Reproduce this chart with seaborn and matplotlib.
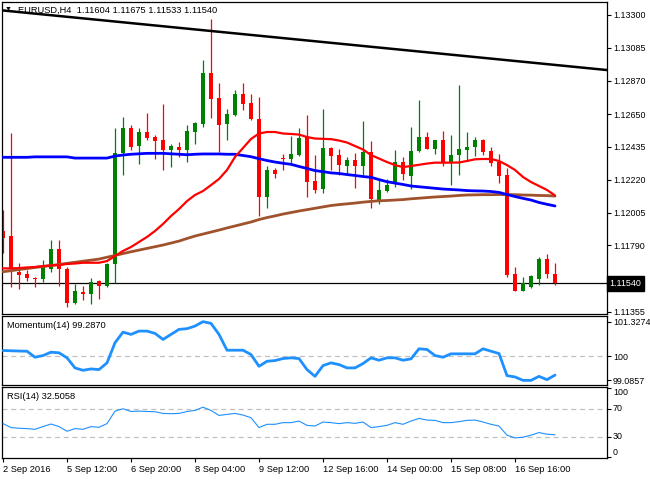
import seaborn as sns
import matplotlib
matplotlib.use("Agg")
import matplotlib.pyplot as plt
import matplotlib.transforms as mtransforms
import numpy as np
import pandas as pd

sns.set_style("white")
plt.rcParams['font.family'] = ['Liberation Sans', 'DejaVu Sans']

symbol = "EURUSD,H4"

# H4 candles, oldest first
opens = [
    1.11884, 1.11851, 1.11617, 1.11602, 1.11578, 1.11567, 1.11637, 1.11768, 1.11637, 1.11414,
    1.11486, 1.11473, 1.11556, 1.11525, 1.11668, 1.12395, 1.12557, 1.12441, 1.12531, 1.12502,
    1.12480, 1.12415, 1.12436, 1.12415, 1.12535, 1.12585, 1.12921, 1.12756, 1.12585, 1.12644,
    1.12782, 1.12725, 1.12618, 1.12109, 1.12284, 1.12362, 1.12358, 1.12382, 1.12498, 1.12212,
    1.12157, 1.12428, 1.12382, 1.12310, 1.12349, 1.12310, 1.12400, 1.12087, 1.12148, 1.12190,
    1.12334, 1.12246, 1.12410, 1.12498, 1.12423, 1.12480, 1.12334, 1.12382, 1.12415, 1.12434,
    1.12480, 1.12408, 1.12338, 1.12251, 1.11602, 1.11492, 1.11519, 1.11569, 1.11698, 1.11604]
highs = [
    1.12021, 1.12526, 1.11674, 1.11628, 1.11580, 1.11694, 1.11825, 1.11825, 1.11650, 1.11536,
    1.11523, 1.11576, 1.11563, 1.11676, 1.12559, 1.12631, 1.12579, 1.12561, 1.12659, 1.12513,
    1.12716, 1.12454, 1.12469, 1.12579, 1.12600, 1.13005, 1.13273, 1.12856, 1.12681, 1.12808,
    1.12856, 1.12782, 1.12764, 1.12310, 1.12295, 1.12387, 1.12507, 1.12557, 1.12644, 1.12382,
    1.12684, 1.12436, 1.12421, 1.12367, 1.12393, 1.12605, 1.12474, 1.12225, 1.12223, 1.12415,
    1.12367, 1.12567, 1.12742, 1.12533, 1.12482, 1.12539, 1.12513, 1.12841, 1.12533, 1.12500,
    1.12487, 1.12432, 1.12387, 1.12295, 1.11646, 1.11580, 1.11595, 1.11715, 1.11733, 1.11675]
lows = [
    1.11740, 1.11517, 1.11504, 1.11556, 1.11519, 1.11550, 1.11617, 1.11525, 1.11388, 1.11405,
    1.11432, 1.11405, 1.11440, 1.11519, 1.11543, 1.12251, 1.12415, 1.12323, 1.12480, 1.12354,
    1.12284, 1.12305, 1.12367, 1.12338, 1.12452, 1.12564, 1.12622, 1.12404, 1.12480, 1.12638,
    1.12677, 1.12611, 1.11982, 1.12033, 1.12229, 1.12284, 1.12328, 1.12375, 1.12105, 1.12131,
    1.12135, 1.12284, 1.12251, 1.12251, 1.12164, 1.12251, 1.12037, 1.12059, 1.12137, 1.12174,
    1.12218, 1.12157, 1.12404, 1.12420, 1.12389, 1.12310, 1.12185, 1.12251, 1.12345, 1.12377,
    1.12382, 1.12310, 1.12200, 1.11582, 1.11490, 1.11490, 1.11512, 1.11530, 1.11574, 1.11533]
closes = [
    1.11838, 1.11635, 1.11597, 1.11578, 1.11567, 1.11654, 1.11768, 1.11637, 1.11414, 1.11491,
    1.11473, 1.11550, 1.11525, 1.11668, 1.12395, 1.12559, 1.12436, 1.12535, 1.12495, 1.12476,
    1.12415, 1.12443, 1.12415, 1.12539, 1.12594, 1.12921, 1.12749, 1.12579, 1.12651, 1.12782,
    1.12716, 1.12616, 1.12109, 1.12284, 1.12257, 1.12358, 1.12389, 1.12491, 1.12207, 1.12153,
    1.12428, 1.12375, 1.12316, 1.12349, 1.12310, 1.12404, 1.12092, 1.12153, 1.12185, 1.12334,
    1.12255, 1.12410, 1.12498, 1.12423, 1.12480, 1.12334, 1.12382, 1.12421, 1.12432, 1.12480,
    1.12404, 1.12328, 1.12244, 1.11595, 1.11492, 1.11541, 1.11589, 1.11698, 1.11602, 1.11540]

# moving averages
ma_blue = [
    1.12367, 1.12367, 1.12367, 1.12367, 1.12370, 1.12370, 1.12370, 1.12370, 1.12370, 1.12362,
    1.12362, 1.12362, 1.12362, 1.12362, 1.12375, 1.12382, 1.12387, 1.12390, 1.12393, 1.12393,
    1.12393, 1.12390, 1.12387, 1.12384, 1.12387, 1.12389, 1.12389, 1.12389, 1.12387, 1.12387,
    1.12379, 1.12371, 1.12358, 1.12346, 1.12336, 1.12328, 1.12321, 1.12307, 1.12294, 1.12280,
    1.12273, 1.12265, 1.12261, 1.12254, 1.12248, 1.12241, 1.12236, 1.12221, 1.12207, 1.12198,
    1.12189, 1.12179, 1.12174, 1.12169, 1.12164, 1.12159, 1.12156, 1.12153, 1.12149, 1.12147,
    1.12146, 1.12143, 1.12137, 1.12123, 1.12110, 1.12098, 1.12087, 1.12071, 1.12059, 1.12048]
ma_red = [
    1.11639, 1.11639, 1.11641, 1.11645, 1.11648, 1.11654, 1.11658, 1.11661, 1.11668, 1.11671,
    1.11676, 1.11676, 1.11676, 1.11687, 1.11720, 1.11753, 1.11779, 1.11812, 1.11845, 1.11884,
    1.11930, 1.11982, 1.12028, 1.12080, 1.12120, 1.12146, 1.12185, 1.12225, 1.12284, 1.12369,
    1.12428, 1.12487, 1.12523, 1.12533, 1.12533, 1.12523, 1.12520, 1.12516, 1.12500, 1.12490,
    1.12488, 1.12486, 1.12477, 1.12464, 1.12441, 1.12418, 1.12382, 1.12359, 1.12336, 1.12316,
    1.12303, 1.12310, 1.12318, 1.12326, 1.12332, 1.12332, 1.12332, 1.12333, 1.12343, 1.12354,
    1.12356, 1.12356, 1.12343, 1.12316, 1.12284, 1.12238, 1.12205, 1.12179, 1.12153, 1.12117]
ma_brown = [
    1.11617, 1.11624, 1.11631, 1.11638, 1.11645, 1.11651, 1.11658, 1.11665, 1.11672, 1.11679,
    1.11686, 1.11693, 1.11700, 1.11712, 1.11724, 1.11736, 1.11748, 1.11759, 1.11770, 1.11781,
    1.11792, 1.11805, 1.11818, 1.11835, 1.11851, 1.11864, 1.11877, 1.11890, 1.11904, 1.11917,
    1.11930, 1.11943, 1.11959, 1.11972, 1.11983, 1.11995, 1.12005, 1.12015, 1.12024, 1.12033,
    1.12042, 1.12051, 1.12057, 1.12062, 1.12067, 1.12073, 1.12078, 1.12082, 1.12084, 1.12087,
    1.12090, 1.12095, 1.12099, 1.12103, 1.12107, 1.12110, 1.12113, 1.12117, 1.12120, 1.12121,
    1.12122, 1.12122, 1.12123, 1.12123, 1.12122, 1.12120, 1.12119, 1.12117, 1.12116, 1.12113]

momentum = [
    100.226, 100.215, 100.205, 100.199, 99.969, 100.034, 100.161, 100.138, 99.946, 99.562,
    99.470, 99.523, 99.497, 99.754, 100.522, 100.928, 100.840, 100.967, 100.967, 100.879,
    100.648, 100.840, 101.032, 101.059, 101.159, 101.3274, 101.262, 100.840, 100.237, 100.237,
    100.237, 100.072, 99.623, 99.815, 99.842, 99.919, 99.946, 99.919, 99.497, 99.239,
    99.650, 99.754, 99.688, 99.562, 99.562, 99.727, 99.946, 99.854, 99.946, 99.946,
    99.854, 99.907, 100.291, 100.264, 100.034, 99.969, 100.099, 100.099, 100.099, 100.099,
    100.291, 100.199, 100.111, 99.266, 99.216, 99.0857, 99.0857, 99.239, 99.113, 99.2870]
rsi = [
    48.6, 42.9, 41.9, 41.4, 40.4, 44.3, 48.0, 44.3, 37.6, 41.4,
    40.4, 44.3, 43.3, 48.6, 66.6, 70.0, 66.1, 66.6, 66.1, 65.7,
    63.3, 62.9, 63.3, 66.1, 67.6, 72.3, 67.6, 60.4, 61.9, 63.3,
    60.9, 57.1, 42.9, 47.6, 47.6, 50.0, 50.0, 52.3, 46.1, 45.1,
    50.9, 50.0, 48.6, 50.0, 49.0, 50.9, 42.9, 44.3, 46.1, 50.0,
    47.6, 52.3, 56.1, 53.7, 53.3, 50.0, 50.0, 51.4, 53.3, 53.7,
    50.9, 47.6, 45.1, 31.9, 28.0, 29.0, 31.9, 35.7, 33.3, 32.5058]

trend_bars = [-0.1, 75.5]
trend_price = [1.13330, 1.12939]

price_ticks = [1.13300, 1.13085, 1.12870, 1.12650, 1.12435,
               1.12220, 1.12005, 1.11790, 1.11570, 1.11355]
mom_ticks = [101.3274, 100, 99.0857]
rsi_ticks = [100, 70, 30, 0]
date_ticks = [0, 8, 16, 24, 32, 40, 48, 56, 64]
date_labels = ["2 Sep 2016", "5 Sep 12:00", "6 Sep 20:00", "8 Sep 04:00", "9 Sep 12:00",
               "12 Sep 16:00", "14 Sep 00:00", "15 Sep 08:00", "16 Sep 16:00"]

df = pd.DataFrame({"bar": np.arange(len(opens)), "open": opens, "high": highs,
                   "low": lows, "close": closes, "ma_blue": ma_blue, "ma_red": ma_red,
                   "ma_brown": ma_brown, "momentum": momentum, "rsi": rsi})

FS = 6.7      # header / x labels
FS_R = 6.4    # price scale on the right
W, H = 650, 480
fig = plt.figure(figsize=(6.5, 4.8), dpi=100)
fig.patch.set_facecolor("white")


def panel(left, top, right, bottom):
    a = fig.add_axes([left / W, 1 - bottom / H, (right - left) / W, (bottom - top) / H])
    a.set_facecolor("white")
    for s in a.spines.values():
        s.set_color("black")
        s.set_linewidth(0.9)
    a.yaxis.tick_right()
    a.tick_params(axis="y", direction="out", length=3, width=0.8, pad=1.2,
                  labelsize=FS_R, colors="black", left=False, right=True)
    a.tick_params(axis="x", bottom=False, labelbottom=False)
    a.set_xlim(-0.125, 75.5)
    return a


ax = panel(2, 2, 607, 314)
ax_m = panel(2, 316, 607, 385)
ax_r = panel(2, 387, 607, 458)

# ---- main price panel
up = df.close >= df.open
cols = np.where(up, "#008000", "#ff0000")
ax.vlines(df.bar, df.low, df.high, colors=cols, lw=0.9, zorder=2)
body = (df.close - df.open).abs().clip(lower=0.000025)
ax.bar(df.bar, body, bottom=df[["open", "close"]].min(axis=1), width=0.62,
       color=cols, lw=0, zorder=2)

sns.lineplot(data=df, x="bar", y="ma_brown", ax=ax, color="#a0522d", lw=2.0, zorder=3)
sns.lineplot(data=df, x="bar", y="ma_blue", ax=ax, color="#0000ff", lw=2.0, zorder=3)
sns.lineplot(data=df, x="bar", y="ma_red", ax=ax, color="#ff0000", lw=1.6, zorder=3)
sns.lineplot(x=trend_bars, y=trend_price, ax=ax, color="black", lw=1.8, zorder=3)
ax.axhline(closes[-1], color="black", lw=0.9, zorder=1)

ax.set_ylim(1.11340, 1.13385)
ax.set_yticks(price_ticks, [f"{v:.5f}" for v in price_ticks])
ax.set_xlabel("")
ax.set_ylabel("")

ax.text(0.026, 0.973,
        f"{symbol}  {opens[-1]:.5f} {highs[-1]:.5f} {lows[-1]:.5f} {closes[-1]:.5f}",
        transform=ax.transAxes, va="center", ha="left", fontsize=FS, color="black", zorder=5)
ax.text(0.004, 0.975, "\u25bc", transform=ax.transAxes, va="center", ha="left",
        fontsize=5, color="black", zorder=5)
tr = mtransforms.blended_transform_factory(ax.transAxes, ax.transData)
ax.text(1.004, closes[-1], f"{closes[-1]:.5f}", transform=tr, va="center", ha="left",
        fontsize=FS_R, color="white", zorder=6, clip_on=False,
        bbox=dict(boxstyle="square,pad=0.3", fc="black", ec="black"))

# ---- momentum panel
ax_m.axhline(100, color="#c0c0c0", lw=0.9, ls=(0, (4, 3)), zorder=1)
sns.lineplot(data=df, x="bar", y="momentum", ax=ax_m, color="#1e90ff", lw=2.0, zorder=3)
ax_m.set_ylim(98.909, 101.543)
ax_m.set_yticks(mom_ticks, ["101.3274", "100", "99.0857"])
ax_m.set_xlabel("")
ax_m.set_ylabel("")
ax_m.text(0.009, 0.86, f"Momentum(14) {momentum[-1]:.4f}", transform=ax_m.transAxes,
          va="center", ha="left", fontsize=FS, color="black")

# ---- RSI panel
for lvl in (70, 30):
    ax_r.axhline(lvl, color="#c0c0c0", lw=0.9, ls=(0, (4, 3)), zorder=1)
sns.lineplot(data=df, x="bar", y="rsi", ax=ax_r, color="#1e90ff", lw=0.8, zorder=3)
ax_r.set_ylim(-1.0, 101.4)
ax_r.set_yticks(rsi_ticks, [str(v) for v in rsi_ticks])
for lab, va in zip(ax_r.get_yticklabels(), ["top", "center", "center", "bottom"]):
    lab.set_verticalalignment(va)
ax_r.set_xlabel("")
ax_r.set_ylabel("")
ax_r.text(0.009, 0.863, f"RSI(14) {rsi[-1]:.4f}", transform=ax_r.transAxes,
          va="center", ha="left", fontsize=FS, color="black")

ax_r.set_xticks(date_ticks, date_labels)
ax_r.tick_params(axis="x", bottom=True, labelbottom=True, direction="out", length=3,
                 width=0.8, pad=2, labelsize=FS, colors="black")
for lab in ax_r.get_xticklabels():
    lab.set_horizontalalignment("left")

fig.savefig("out.png", dpi=100, facecolor="white")
